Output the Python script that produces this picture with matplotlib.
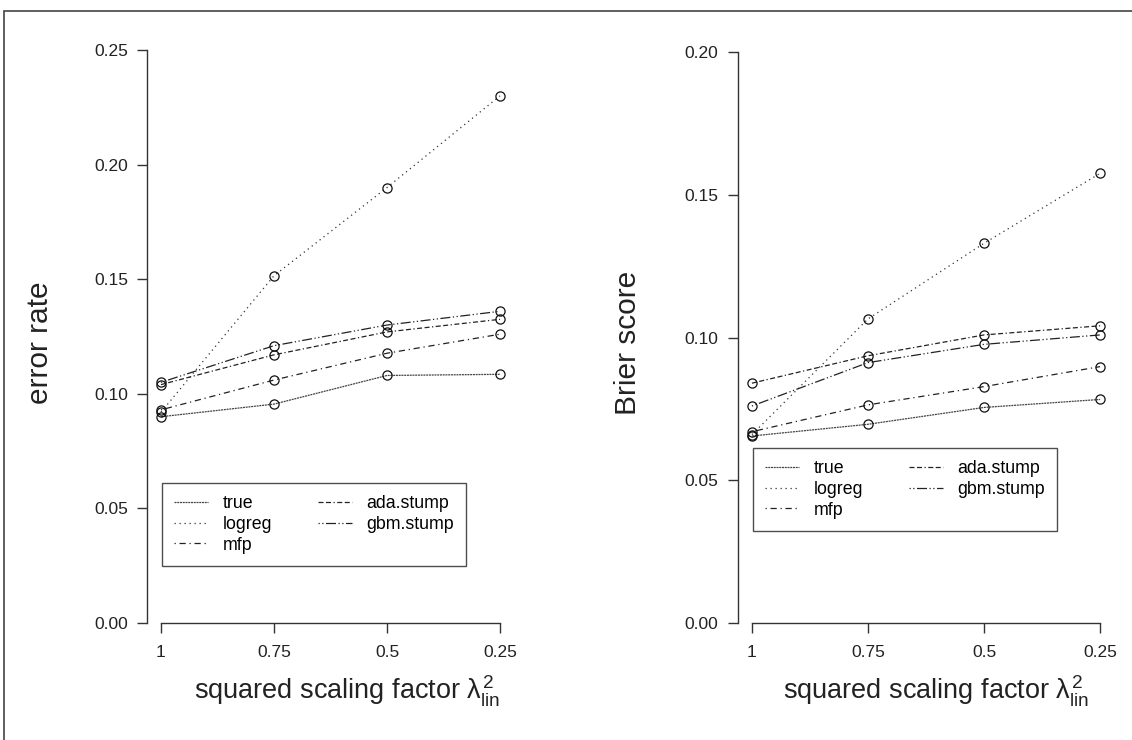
import matplotlib
matplotlib.use("Agg")
import matplotlib.pyplot as plt
import numpy as np
from matplotlib.patches import Rectangle

plt.rcParams['font.family'] = ['Liberation Sans', 'DejaVu Sans']
plt.rcParams['mathtext.fontset'] = 'custom'
plt.rcParams['mathtext.rm'] = 'Liberation Sans'
plt.rcParams['mathtext.it'] = 'Liberation Sans'

# values along the x axis (squared scaling factor)
x_labels = ['1', '0.75', '0.5', '0.25']
methods = ['true', 'logreg', 'mfp', 'ada.stump', 'gbm.stump']

# error rate
err_true = [0.090, 0.0955, 0.108, 0.1085]
err_logreg = [0.092, 0.1515, 0.190, 0.230]
err_mfp = [0.093, 0.106, 0.1177, 0.126]
err_ada = [0.104, 0.117, 0.127, 0.1325]
err_gbm = [0.105, 0.121, 0.130, 0.136]

# Brier score
bs_true = [0.0655, 0.0696, 0.0755, 0.0783]
bs_logreg = [0.066, 0.1065, 0.133, 0.1575]
bs_mfp = [0.067, 0.0764, 0.0828, 0.0898]
bs_ada = [0.0840, 0.0936, 0.1009, 0.1041]
bs_gbm = [0.0760, 0.0912, 0.0976, 0.1009]

# line styles in R-like fashion
styles = {
    'true': dict(ls=(0, (1.6, 0.6)), color='#444444'),
    'logreg': dict(ls=(0, (1, 3)), color='#333333'),
    'mfp': dict(ls=(0, (1, 3, 5, 3)), color='#222222'),
    'ada.stump': dict(ls=(0, (4, 2, 4, 2, 1, 2)), color='#222222'),
    'gbm.stump': dict(ls=(0, (1, 2, 1, 2, 8, 2)), color='#222222'),
}

W, H = 1132, 740
fig = plt.figure(figsize=(W / 100, H / 100), dpi=100)

# outer frame
fig.patches.append(Rectangle((4 / W, -0.05), 1.1, 1.05 - 11.5 / H,
                             transform=fig.transFigure, fill=False,
                             edgecolor='#444444', lw=1.2))


def panel(rect, series, ymax, yticks, ylabel, leg_box, xlab_x):
    ax = fig.add_axes([rect[0] / W, (H - rect[3]) / H,
                       (rect[2] - rect[0]) / W, (rect[3] - rect[1]) / H])
    x = np.arange(len(x_labels))
    for name, vals in zip(methods, series):
        st = styles[name]
        ax.plot(x, vals, linestyle=st['ls'], color=st['color'], lw=0.9,
                label=name)
        ax.plot(x, vals, linestyle='none', marker='o', ms=6.6, mfc='none',
                mec='#111111', mew=0.9)
    ax.set_xlim(-0.12, 3.12)
    ax.set_ylim(0, ymax)
    ax.set_xticks(x)
    ax.set_xticklabels(x_labels)
    ax.set_yticks(yticks)
    ax.set_yticklabels([f'{t:.2f}' for t in yticks])
    for s in ['top', 'right']:
        ax.spines[s].set_visible(False)
    ax.spines['left'].set_bounds(0, ymax)
    ax.spines['bottom'].set_bounds(0, 3)
    for s in ['left', 'bottom']:
        ax.spines[s].set_color('#333333')
        ax.spines[s].set_linewidth(1.0)
    ax.tick_params(direction='out', length=7, width=1.0, color='#333333',
                   labelsize=12.5, labelcolor='#222222')
    ax.tick_params(axis='x', pad=9)
    ax.tick_params(axis='y', pad=7)
    ax.set_ylabel(ylabel, fontsize=21.5, color='#222222')
    ax.yaxis.set_label_coords(-0.255, 0.49)
    ax.set_xlabel('squared scaling factor $\\lambda_{\\mathrm{lin}}^2$',
                  fontsize=19.5, color='#222222')
    ax.xaxis.set_label_coords(xlab_x, -0.088)
    leg = ax.legend(loc='upper left', ncol=2, fontsize=12.8,
                    bbox_to_anchor=(leg_box[0] / W, (H - leg_box[1]) / H),
                    bbox_transform=fig.transFigure, borderaxespad=0,
                    frameon=True, fancybox=False, handlelength=1.9,
                    handletextpad=0.8, columnspacing=2.6, labelspacing=0.2,
                    borderpad=0.7)
    leg.get_frame().set_edgecolor('#222222')
    leg.get_frame().set_linewidth(1.0)
    return ax


panel((147.4, 50, 513.6, 623),
      [err_true, err_logreg, err_mfp, err_ada, err_gbm],
      0.25, [0.0, 0.05, 0.10, 0.15, 0.20, 0.25], 'error rate',
      (162, 483), 0.545)
panel((738, 52, 1114, 623),
      [bs_true, bs_logreg, bs_mfp, bs_ada, bs_gbm],
      0.20, [0.0, 0.05, 0.10, 0.15, 0.20], 'Brier score',
      (753, 448), 0.527)

fig.savefig('out.png', dpi=100)
